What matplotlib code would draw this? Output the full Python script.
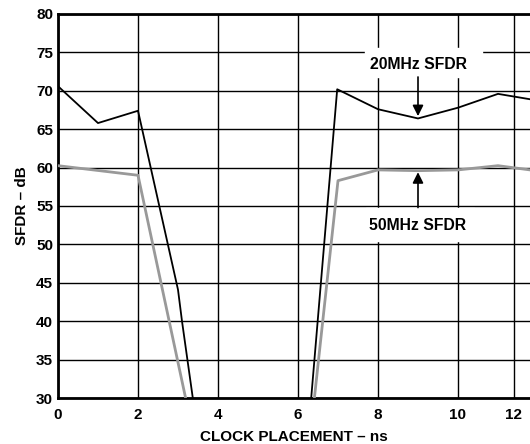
import numpy as np
import matplotlib.pyplot as plt

plt.rcParams['font.family'] = ['Liberation Sans', 'DejaVu Sans']
plt.rcParams['font.weight'] = 'bold'

# 20MHz SFDR (black)
x20 = [0, 1, 2, 3.0, 3.1, 3.37, 4.8, 6.33, 6.98, 8, 9, 10, 11, 11.8]
y20 = [70.6, 65.8, 67.4, 44.1, 40.0, 30.0, np.nan, 30.0, 70.2, 67.6, 66.4, 67.8, 69.6, 68.9]

# 50MHz SFDR (grey)
x50 = [0, 2, 3.19, 4.8, 6.41, 7.0, 8, 9, 10, 11, 11.8]
y50 = [60.25, 59.0, 30.0, np.nan, 30.0, 58.3, 59.7, 59.6, 59.7, 60.25, 59.7]

xticks = [0, 2, 4, 6, 8, 10, 11.4]
xticklabels = ['0', '2', '4', '6', '8', '10', '12']
yticks = [30, 35, 40, 45, 50, 55, 60, 65, 70, 75, 80]

fig = plt.figure(figsize=(5.3, 4.44), dpi=100)
ax = fig.add_axes([58/530, 1-398/444, 1-58/530, (398-14)/444])

ax.set_xlim(0, 11.8)
ax.set_ylim(30, 80)
ax.set_xticks(xticks)
ax.set_xticklabels(xticklabels)
ax.set_yticks(yticks)
ax.grid(True, color='black', linewidth=1.0)
ax.tick_params(length=0, labelsize=11)
ax.tick_params(axis='y', pad=3.5)
ax.tick_params(axis='x', pad=7)
for s in ['left', 'bottom', 'top']:
    ax.spines[s].set_linewidth(2)
ax.spines['right'].set_visible(False)

ax.plot(x20, y20, color='black', linewidth=1.3, zorder=3)
ax.plot(x50, y50, color='#999999', linewidth=2.0, zorder=3)

# label boxes covering the grid
ax.fill_between([7.68, 10.6], 71.8, 75.6, color='white', zorder=2)
ax.fill_between([7.7, 10.4], 50.4, 54.8, color='white', zorder=2)

ax.text(9, 73.4, '20MHz SFDR', ha='center', va='center', fontsize=11.3, fontweight='bold', zorder=4)
ax.text(9, 52.4, '50MHz SFDR', ha='center', va='center', fontsize=11.3, fontweight='bold', zorder=4)

ax.annotate('', xy=(9, 66.7), xytext=(9, 71.8),
            arrowprops=dict(arrowstyle='-|>', color='black', lw=1.2, mutation_scale=16, shrinkA=0, shrinkB=0), zorder=4)
ax.annotate('', xy=(9, 59.4), xytext=(9, 54.8),
            arrowprops=dict(arrowstyle='-|>', color='black', lw=1.2, mutation_scale=16, shrinkA=0, shrinkB=0), zorder=4)

ax.set_xlabel('CLOCK PLACEMENT – ns', fontsize=11, fontweight='bold', labelpad=6)
ax.set_ylabel('SFDR – dB', fontsize=11, fontweight='bold', labelpad=5)

plt.savefig('out.png', dpi=100)
